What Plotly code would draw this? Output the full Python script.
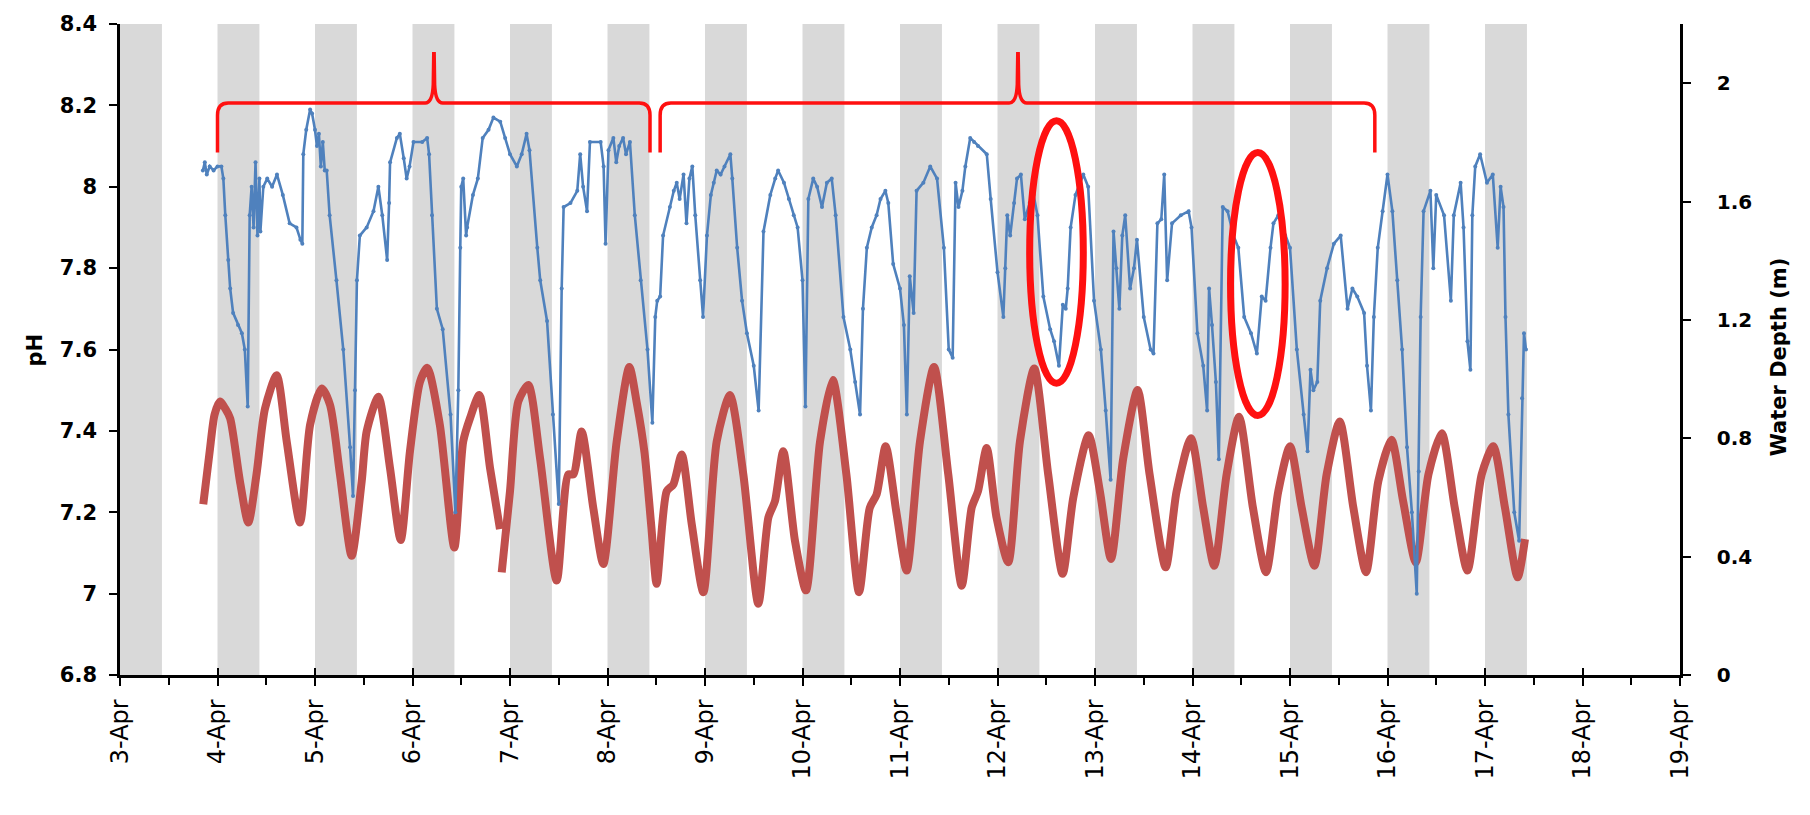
import plotly.graph_objects as go

# ---------------- data (day of April, fractional) ----------------
ph_day = [3.85, 3.87, 3.89, 3.92, 3.96, 4.00, 4.04, 4.06, 4.08, 4.11, 4.13, 4.16, 4.21, 4.25, 4.28, 4.31,
          4.33, 4.35, 4.37, 4.39, 4.41, 4.43, 4.44, 4.47, 4.51, 4.56, 4.61, 4.67, 4.74, 4.81, 4.85, 4.87,
          4.88, 4.91, 4.95, 4.97, 5.00, 5.02, 5.04, 5.06, 5.08, 5.10, 5.12, 5.15, 5.22, 5.29, 5.36, 5.39,
          5.41, 5.43, 5.46, 5.53, 5.60, 5.65, 5.69, 5.74, 5.76, 5.77, 5.84, 5.87, 5.91, 5.94, 5.97, 6.01,
          6.10, 6.15, 6.17, 6.20, 6.25, 6.31, 6.39, 6.44, 6.47, 6.49, 6.50, 6.52, 6.55, 6.56, 6.62, 6.67,
          6.72, 6.78, 6.83, 6.90, 6.95, 7.00, 7.07, 7.12, 7.17, 7.20, 7.28, 7.31, 7.38, 7.44, 7.50, 7.53,
          7.55, 7.62, 7.69, 7.72, 7.75, 7.79, 7.82, 7.93, 7.96, 7.98, 8.01, 8.06, 8.09, 8.12, 8.16, 8.19,
          8.23, 8.28, 8.34, 8.41, 8.46, 8.49, 8.51, 8.54, 8.57, 8.64, 8.68, 8.71, 8.74, 8.78, 8.81, 8.84,
          8.87, 8.90, 8.95, 8.98, 9.02, 9.06, 9.09, 9.12, 9.16, 9.20, 9.26, 9.28, 9.33, 9.38, 9.43, 9.50,
          9.55, 9.60, 9.67, 9.72, 9.75, 9.81, 9.86, 9.91, 9.95, 10.00, 10.03, 10.06, 10.11, 10.15, 10.20,
          10.25, 10.30, 10.34, 10.42, 10.49, 10.54, 10.59, 10.62, 10.66, 10.71, 10.76, 10.80, 10.85, 10.88,
          10.93, 11.00, 11.04, 11.07, 11.10, 11.14, 11.17, 11.24, 11.31, 11.38, 11.45, 11.50, 11.54, 11.57,
          11.60, 11.64, 11.67, 11.72, 11.76, 11.80, 11.89, 11.93, 12.00, 12.06, 12.08, 12.10, 12.13, 12.17,
          12.20, 12.24, 12.28, 12.33, 12.37, 12.41, 12.47, 12.54, 12.58, 12.63, 12.67, 12.70, 12.72, 12.75,
          12.80, 12.88, 12.93, 12.99, 13.06, 13.11, 13.16, 13.19, 13.22, 13.25, 13.28, 13.31, 13.36, 13.40,
          13.43, 13.50, 13.57, 13.60, 13.64, 13.68, 13.71, 13.74, 13.79, 13.88, 13.96, 13.99, 14.05, 14.11,
          14.15, 14.17, 14.20, 14.24, 14.27, 14.31, 14.36, 14.42, 14.47, 14.53, 14.60, 14.66, 14.71, 14.75,
          14.80, 14.83, 14.88, 14.95, 15.00, 15.07, 15.14, 15.18, 15.21, 15.24, 15.28, 15.31, 15.38, 15.45,
          15.52, 15.59, 15.64, 15.69, 15.76, 15.79, 15.83, 15.86, 15.90, 15.95, 16.00, 16.05, 16.10, 16.15,
          16.20, 16.25, 16.30, 16.32, 16.34, 16.37, 16.44, 16.47, 16.50, 16.58, 16.65, 16.68, 16.75, 16.78,
          16.82, 16.85, 16.87, 16.90, 16.95, 17.02, 17.08, 17.13, 17.16, 17.19, 17.21, 17.24, 17.30, 17.35,
          17.38, 17.40, 17.42]
ph_value = [8.04, 8.06, 8.03, 8.05, 8.04, 8.05, 8.05, 8.02, 7.93, 7.82, 7.75, 7.69, 7.66, 7.64, 7.60, 7.46,
            7.93, 8.00, 7.90, 8.06, 7.88, 8.02, 7.89, 8.00, 8.02, 8.00, 8.03, 7.98, 7.91, 7.90, 7.87, 7.86,
            8.08, 8.14, 8.19, 8.18, 8.14, 8.10, 8.13, 8.05, 8.11, 8.04, 8.04, 7.93, 7.77, 7.60, 7.36, 7.24,
            7.50, 7.77, 7.88, 7.90, 7.94, 8.00, 7.93, 7.82, 7.96, 8.06, 8.12, 8.13, 8.07, 8.02, 8.05, 8.11,
            8.11, 8.12, 8.08, 7.93, 7.70, 7.65, 7.44, 7.20, 7.50, 7.85, 8.00, 8.02, 7.88, 7.90, 7.98, 8.02,
            8.12, 8.14, 8.17, 8.16, 8.12, 8.08, 8.05, 8.08, 8.13, 8.09, 7.85, 7.77, 7.67, 7.44, 7.22, 7.75,
            7.95, 7.96, 7.99, 8.08, 8.00, 7.94, 8.11, 8.11, 8.05, 7.86, 8.09, 8.12, 8.06, 8.10, 8.12, 8.08,
            8.11, 7.93, 7.77, 7.60, 7.42, 7.68, 7.72, 7.73, 7.88, 7.95, 7.99, 8.01, 7.97, 8.03, 7.91, 8.02,
            8.05, 7.93, 7.77, 7.68, 7.88, 7.98, 8.01, 8.04, 8.03, 8.05, 8.08, 8.02, 7.85, 7.72, 7.64, 7.56,
            7.45, 7.89, 7.98, 8.02, 8.04, 8.01, 7.97, 7.93, 7.90, 7.77, 7.46, 7.97, 8.02, 8.00, 7.95,
            8.01, 8.02, 7.93, 7.68, 7.60, 7.52, 7.44, 7.70, 7.85, 7.90, 7.93, 7.97, 7.99, 7.96,
            7.81, 7.75, 7.66, 7.44, 7.78, 7.69, 7.99, 8.01, 8.05, 8.02, 7.85, 7.60, 7.58, 8.01,
            7.95, 7.99, 8.05, 8.12, 8.11, 8.10, 8.08, 7.97, 7.79, 7.68, 7.80, 7.93, 7.88, 7.96,
            8.02, 8.03, 7.92, 7.96, 7.98, 7.93, 7.73, 7.65, 7.62, 7.56, 7.71, 7.70, 7.75, 7.90,
            7.98, 8.03, 8.00, 7.72, 7.60, 7.45, 7.28, 7.89, 7.80, 7.70, 7.88, 7.93, 7.75, 7.80,
            7.87, 7.68, 7.60, 7.59, 7.91, 7.92, 8.03, 7.77, 7.91, 7.93, 7.94, 7.90, 7.64, 7.56,
            7.45, 7.75, 7.66, 7.52, 7.33, 7.95, 7.94, 7.88, 7.85, 7.68, 7.64, 7.59, 7.73, 7.72,
            7.85, 7.91, 7.93, 7.88, 7.85, 7.60, 7.44, 7.35, 7.55, 7.50, 7.52, 7.72, 7.80, 7.86,
            7.88, 7.70, 7.75, 7.73, 7.69, 7.56, 7.45, 7.68, 7.85, 7.94, 8.03, 7.94, 7.77, 7.60,
            7.36, 7.20, 7.00, 7.30, 7.68, 7.94, 7.99, 7.80, 7.98, 7.93, 7.72, 7.93, 8.01, 7.90,
            7.62, 7.55, 7.93, 8.05, 8.08, 8.01, 8.03, 7.85, 8.00, 7.95, 7.68, 7.44, 7.20, 7.13,
            7.48, 7.64, 7.60]

depth_day = [3.854, 3.92, 3.97, 4.026, 4.08, 4.13, 4.23, 4.316, 4.40, 4.487, 4.607, 4.71, 4.846, 4.95,
             5.069, 5.154, 5.256, 5.376, 5.479, 5.53, 5.65, 5.769, 5.879, 5.974, 6.077, 6.152, 6.28,
             6.429, 6.52, 6.59, 6.685, 6.795, 6.897, None,
             6.915, 7.00, 7.085, 7.188, 7.308, 7.479, 7.598, 7.65, 7.735, 7.854, 7.957, 8.094, 8.224,
             8.30, 8.38, 8.45, 8.504, 8.607, 8.675, 8.761, 8.864, 8.983, 9.12, 9.256, 9.393, 9.547,
             9.65, 9.718, 9.803, 9.923, 10.036, 10.18, 10.31, 10.45, 10.58, 10.69, 10.76, 10.853,
             10.966, 11.068, 11.205, 11.349, 11.495, 11.633, 11.735, 11.80, 11.889, 11.99, 12.11,
             12.23, 12.377, 12.52, 12.668, 12.777, 12.935, 13.05, 13.164, 13.29, 13.437, 13.56,
             13.725, 13.837, 13.985, 14.11, 14.223, 14.35, 14.477, 14.62, 14.754, 14.88, 15.0,
             15.12, 15.25, 15.376, 15.51, 15.65, 15.78, 15.906, 16.04, 16.16, 16.29, 16.42, 16.556,
             16.69, 16.82, 16.966, 17.085, 17.205, 17.335, 17.41]
depth_m = [0.577, 0.756, 0.88, 0.924, 0.90, 0.867, 0.655, 0.515, 0.678, 0.90, 1.013, 0.789, 0.515, 0.846,
           0.968, 0.913, 0.678, 0.403, 0.655, 0.823, 0.94, 0.70, 0.456, 0.756, 0.991, 1.038, 0.846,
           0.431, 0.789, 0.868, 0.946, 0.70, 0.493, None,
           0.347, 0.621, 0.924, 0.98, 0.733, 0.319, 0.678, 0.678, 0.823, 0.565, 0.375, 0.789, 1.041,
           0.92, 0.75, 0.50, 0.308, 0.621, 0.644, 0.745, 0.51, 0.28, 0.789, 0.946, 0.678, 0.241,
           0.532, 0.588, 0.756, 0.453, 0.286, 0.789, 0.997, 0.678, 0.28, 0.565, 0.61, 0.773,
           0.543, 0.353, 0.789, 1.041, 0.678, 0.302, 0.565, 0.621, 0.767, 0.532, 0.381,
           0.789, 1.036, 0.678, 0.342, 0.599, 0.81, 0.621, 0.392, 0.733, 0.963, 0.678,
           0.364, 0.621, 0.80, 0.565, 0.369, 0.678, 0.873, 0.565, 0.347, 0.621, 0.773,
           0.565, 0.369, 0.678, 0.857, 0.565, 0.347, 0.655, 0.795, 0.588, 0.381, 0.678, 0.817,
           0.565, 0.353, 0.678, 0.773, 0.565, 0.33, 0.459]

x_tick_days = list(range(3, 20))
x_tick_labels = [f"{d}-Apr" for d in x_tick_days]
x_minor_days = [d + 0.5 for d in range(3, 19)]
ph_ticks = [6.8, 7.0, 7.2, 7.4, 7.6, 7.8, 8.0, 8.2, 8.4]
ph_tick_labels = ["6.8", "7", "7.2", "7.4", "7.6", "7.8", "8", "8.2", "8.4"]
depth_ticks = [0, 0.4, 0.8, 1.2, 1.6, 2.0]
depth_tick_labels = ["0", "0.4", "0.8", "1.2", "1.6", "2"]
night_start = list(range(3, 18))
night_length = 0.43

# annotation marks (braces and ellipses) in data units
braces = [(4.00, 8.436, 6.22), (8.54, 15.87, 12.21)]
brace_bottom, brace_line, brace_top = 8.084, 8.206, 8.327
ellipses = [(12.33, 12.88, 7.517, 8.162), (14.39, 14.95, 7.438, 8.084)]

BLUE = "#4f81bd"
RED_LINE = "#c0504d"
ANNOT = "#ff1010"
FONT = "DejaVu Sans"

fig = go.Figure()

fig.add_trace(go.Scatter(x=depth_day, y=depth_m, mode="lines", yaxis="y", xaxis="x",
                         line=dict(color=RED_LINE, width=8, shape="spline", smoothing=0.7),
                         connectgaps=False, showlegend=False, hoverinfo="skip"))
fig.add_trace(go.Scatter(x=ph_day, y=ph_value, mode="lines+markers", yaxis="y2", xaxis="x",
                         line=dict(color=BLUE, width=2.6), marker=dict(size=4, color=BLUE),
                         showlegend=False, hoverinfo="skip"))
fig.add_trace(go.Scatter(x=[None], y=[None], xaxis="x2", yaxis="y", showlegend=False,
                         hoverinfo="skip"))

shapes = []
for d in night_start:
    shapes.append(dict(type="rect", xref="x", yref="paper", x0=d, x1=d + night_length, y0=0, y1=1,
                       fillcolor="#d9d9d9", line=dict(width=0), layer="below"))


def brace_path(x0, x1, xp, yb, yl, yt):
    rx, ry, w = 0.11, 0.03, 0.09
    return (f"M{x0},{yb} L{x0},{yl - ry} Q{x0},{yl} {x0 + rx},{yl} L{xp - w},{yl} "
            f"Q{xp - 0.015},{yl} {xp - 0.007},{yl + 0.045} L{xp - 0.002},{yt} L{xp + 0.002},{yt} "
            f"L{xp + 0.007},{yl + 0.045} Q{xp + 0.015},{yl} {xp + w},{yl} L{x1 - rx},{yl} "
            f"Q{x1},{yl} {x1},{yl - ry} L{x1},{yb}")


for x0, x1, xp in braces:
    shapes.append(dict(type="path", xref="x", yref="y2",
                       path=brace_path(x0, x1, xp, brace_bottom, brace_line, brace_top),
                       line=dict(color=ANNOT, width=3.5), layer="above"))
for ex0, ex1, ey0, ey1 in ellipses:
    shapes.append(dict(type="circle", xref="x", yref="y2", x0=ex0, x1=ex1, y0=ey0, y1=ey1,
                       line=dict(color=ANNOT, width=7), layer="above"))

fig.update_layout(
    width=1810, height=815, autosize=False,
    margin=dict(l=120, r=130, t=21, b=140),
    paper_bgcolor="white", plot_bgcolor="white",
    shapes=shapes,
    xaxis=dict(range=[3, 19], tickmode="array", tickvals=x_tick_days, ticktext=x_tick_labels,
               tickangle=-90, ticks="outside", ticklen=8, tickwidth=2, tickcolor="black",
               showline=True, linewidth=2.5, linecolor="black", showgrid=False, zeroline=False,
               tickfont=dict(family=FONT, size=24, color="black"), ticklabelstandoff=4,
               minor=dict(tickmode="array", tickvals=x_minor_days, ticks="outside", ticklen=7,
                          tickwidth=2, tickcolor="black", showgrid=False),
               anchor="y"),
    xaxis2=dict(range=[3, 19], overlaying="x", anchor="y", side="bottom", tickmode="array",
                tickvals=x_tick_days, ticks="inside", ticklen=7, tickwidth=2, tickcolor="black",
                showticklabels=False, showline=False, showgrid=False, zeroline=False),
    yaxis=dict(range=[0, 2.2], side="right", anchor="x", tickmode="array", tickvals=depth_ticks,
               ticktext=depth_tick_labels, ticks="outside", ticklen=8, tickwidth=2, tickcolor="black",
               showline=True, linewidth=2.5, linecolor="black", showgrid=False, zeroline=False,
               tickfont=dict(family=FONT, size=20, color="black", weight="bold"),
               ticklabelstandoff=22),
    yaxis2=dict(range=[6.8, 8.4], side="left", overlaying="y", anchor="x", tickmode="array",
                tickvals=ph_ticks, ticktext=ph_tick_labels, ticks="outside", ticklen=8, tickwidth=2,
                tickcolor="black", showline=True, linewidth=2.5, linecolor="black", showgrid=False,
                zeroline=False, tickfont=dict(family=FONT, size=21, color="black", weight="bold"),
                ticklabelstandoff=8),
    annotations=[
        dict(text="pH", xref="paper", yref="paper", x=-0.0545, y=0.5, showarrow=False,
             xanchor="center", yanchor="middle", textangle=-90,
             font=dict(family=FONT, size=21, color="black", weight="bold")),
        dict(text="Water Depth (m)", xref="paper", yref="paper", x=1.0635, y=0.488, showarrow=False,
             xanchor="center", yanchor="middle", textangle=-90,
             font=dict(family=FONT, size=21, color="black", weight="bold")),
    ],
)

fig.write_html("out.html")
